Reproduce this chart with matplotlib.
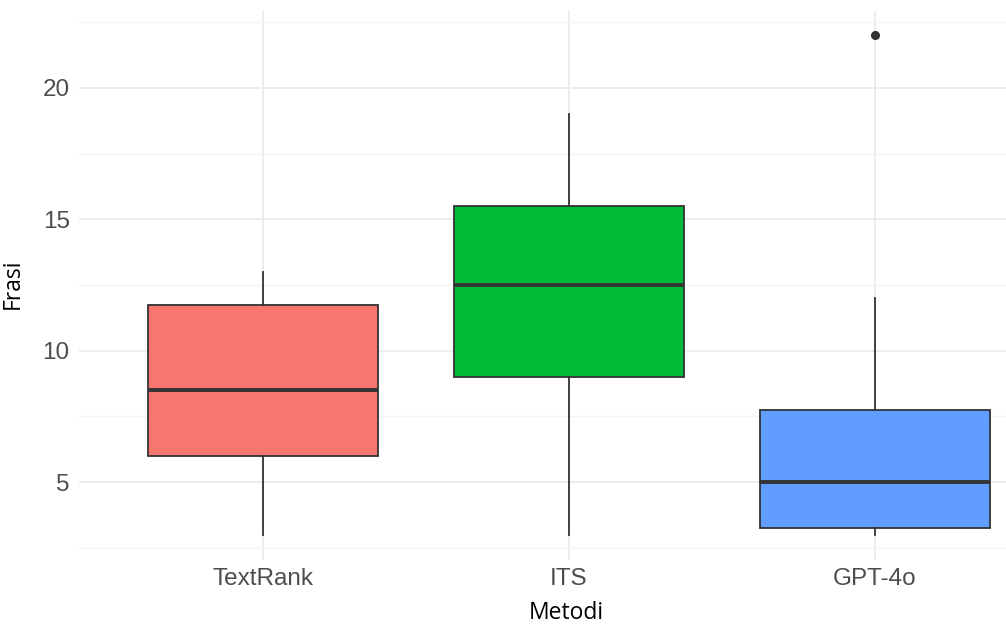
import matplotlib
matplotlib.use("Agg")
import matplotlib.pyplot as plt
from matplotlib.ticker import MultipleLocator

# values
methods = ["TextRank", "ITS", "GPT-4o"]
whisker_low = [3, 3, 3]
q1 = [6, 9, 3.25]
median = [8.5, 12.5, 5]
q3 = [11.75, 15.5, 7.75]
whisker_high = [13, 19, 12]
outliers = [[], [], [22]]
colors = ["#F8766D", "#00BA38", "#619CFF"]

stats = []
for i, name in enumerate(methods):
    stats.append({
        "label": name,
        "whislo": whisker_low[i],
        "q1": q1[i],
        "med": median[i],
        "q3": q3[i],
        "whishi": whisker_high[i],
        "fliers": outliers[i],
    })

fig = plt.figure(figsize=(10.06, 6.25), dpi=100)
ax = fig.add_axes([0.0789, 0.1048, 0.9732, 0.8784])

bp = ax.bxp(
    stats,
    positions=[1, 2, 3],
    widths=0.75,
    patch_artist=True,
    showcaps=False,
    boxprops=dict(edgecolor="#333333", linewidth=1.3),
    whiskerprops=dict(color="#333333", linewidth=1.3),
    medianprops=dict(color="#333333", linewidth=2.8),
    flierprops=dict(marker="o", markersize=5.5, markerfacecolor="#333333",
                    markeredgecolor="#333333"),
    zorder=3,
)
for patch, c in zip(bp["boxes"], colors):
    patch.set_facecolor(c)

ax.set_xlim(0.4, 3.6)
ax.set_ylim(2.05, 22.95)
ax.yaxis.set_major_locator(MultipleLocator(5))
ax.yaxis.set_minor_locator(MultipleLocator(2.5))

ax.grid(True, which="major", color="#EBEBEB", linewidth=1.3, zorder=0)
ax.grid(True, which="minor", axis="y", color="#F4F4F4", linewidth=1.0, zorder=0)
ax.set_axisbelow(True)

for s in ax.spines.values():
    s.set_visible(False)
ax.tick_params(axis="both", which="both", length=0)
ax.tick_params(axis="y", labelsize=17.5, labelcolor="#4D4D4D", pad=7)
ax.tick_params(axis="x", labelsize=17.5, labelcolor="#4D4D4D", pad=6)
ax.set_xticks([1, 2, 3])
ax.set_xticklabels(methods)
for lab in ax.get_xticklabels() + ax.get_yticklabels():
    lab.set_family(["Liberation Sans", "DejaVu Sans"])

fig.text(0.5627, 0.019, "Metodi", ha="center", va="center",
         fontsize=16.5, family=["Open Sans", "DejaVu Sans"], color="black")
fig.text(0.013, 0.5456, "Frasi", ha="center", va="center", rotation=90,
         fontsize=16.5, family=["Open Sans", "DejaVu Sans"], color="black")

fig.savefig("out.png", dpi=100)
